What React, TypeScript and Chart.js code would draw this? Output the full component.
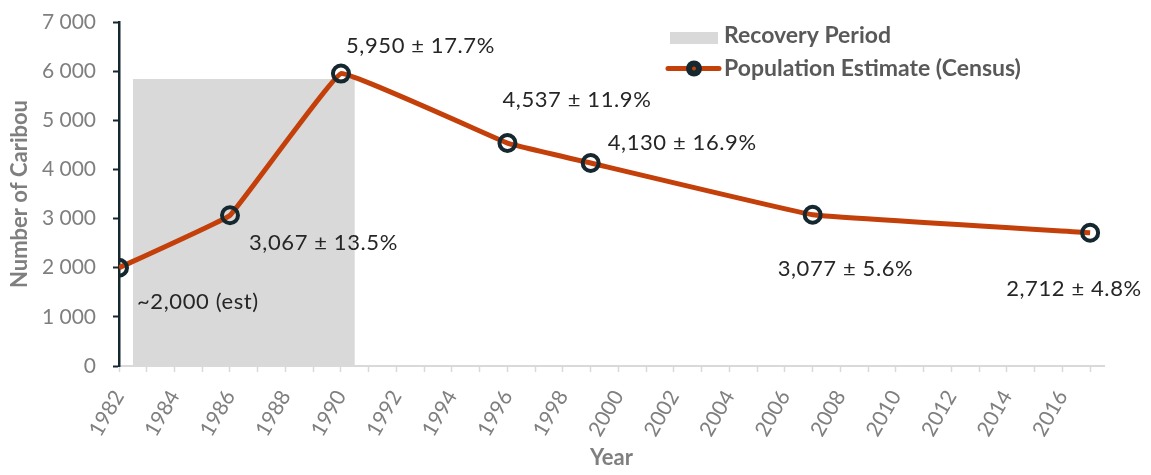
import React, { useEffect, useRef } from "react";
import { Chart, registerables } from "chart.js";

Chart.register(...registerables);

// ---- data ----
const years = [1982, 1986, 1990, 1996, 1999, 2007, 2017];
const population = [2000, 3067, 5950, 4537, 4130, 3077, 2712];
const pointLabels = [
  "~2,000 (est)",
  "3,067 ± 13.5%",
  "5,950 ± 17.7%",
  "4,537 ± 11.9%",
  "4,130 ± 16.9%",
  "3,077 ± 5.6%",
  "2,712 ± 4.8%",
];
const recoveryYears = [1982.5, 1990.5];
const recoveryLevel = [5840, 5840];
const seriesNames = ["Recovery Period", "Population Estimate (Census)"];
const yTickValues = [0, 1000, 2000, 3000, 4000, 5000, 6000, 7000];

// ---- styles ----
const LINE_COLOR = "#c4400a";
const MARKER_COLOR = "#15272f";
const GRAY_FILL = "#d9d9d9";
const TEXT_GRAY = "#7f7f7f";
const LEGEND_GRAY = "#595959";
const LABEL_COLOR = "#262626";
const FONT = "Lato";
// offsets of each point label's left/middle anchor relative to its point (px)
const labelOffsets = [
  [18, 34],
  [19, 28],
  [5, -28],
  [-5, -43],
  [17, -20],
  [-35, 54],
  [-84, 56],
];

const fmtThousands = (v: number) =>
  String(v).replace(/\B(?=(\d{3})+(?!\d))/g, " ");

const labelsPlugin = {
  id: "pointLabels",
  afterDatasetsDraw(chart: any) {
    const { ctx, scales } = chart;
    const xs = scales.x;
    const ys = scales.y;
    ctx.save();
    ctx.font = `22px ${FONT}`;
    (ctx as any).letterSpacing = "0.6px";
    ctx.fillStyle = LABEL_COLOR;
    ctx.textAlign = "left";
    ctx.textBaseline = "middle";
    years.forEach((yr, i) => {
      const px = xs.getPixelForValue(yr);
      const py = ys.getPixelForValue(population[i]);
      const [dx, dy] = labelOffsets[i];
      ctx.fillText(pointLabels[i], px + dx, py + dy);
    });
    (ctx as any).letterSpacing = "0px";

    // legend
    const ly1 = 38;
    const ly2 = 68.5;
    ctx.fillStyle = GRAY_FILL;
    ctx.fillRect(670, 32, 48, 12);
    ctx.strokeStyle = LINE_COLOR;
    ctx.lineWidth = 5;
    ctx.lineCap = "round";
    ctx.beginPath();
    ctx.moveTo(668, ly2);
    ctx.lineTo(719, ly2);
    ctx.stroke();
    ctx.fillStyle = MARKER_COLOR;
    ctx.beginPath();
    ctx.arc(694, ly2, 8, 0, Math.PI * 2);
    ctx.fill();
    ctx.fillStyle = LINE_COLOR;
    ctx.beginPath();
    ctx.arc(694, ly2, 2, 0, Math.PI * 2);
    ctx.fill();
    ctx.fillStyle = LEGEND_GRAY;
    ctx.font = `bold 23px ${FONT}`;
    ctx.fillText(seriesNames[0], 724, ly1 - 2);
    ctx.fillText(seriesNames[1], 724, ly2);
    ctx.restore();
  },
};

export default function App() {
  const ref = useRef<HTMLCanvasElement | null>(null);
  useEffect(() => {
    if (!ref.current) return;
    const chart = new Chart(ref.current, {
      type: "line",
      data: {
        datasets: [
          {
            label: seriesNames[1],
            data: years.map((x, i) => ({ x, y: population[i] })),
            borderColor: LINE_COLOR,
            borderWidth: 5,
            tension: 0.06,
            pointRadius: 8,
            pointHoverRadius: 8,
            pointBorderWidth: 4,
            pointBorderColor: MARKER_COLOR,
            pointBackgroundColor: "rgba(0,0,0,0)",
            order: 1,
          },
          {
            label: seriesNames[0],
            data: recoveryYears.map((x, i) => ({ x, y: recoveryLevel[i] })),
            borderWidth: 0,
            borderColor: "rgba(0,0,0,0)",
            backgroundColor: GRAY_FILL,
            fill: "origin",
            pointRadius: 0,
            tension: 0,
            order: 2,
          },
        ],
      },
      options: {
        responsive: false,
        animation: false,
        layout: { padding: { left: 0, top: 22, right: 47, bottom: 0 } },
        plugins: { legend: { display: false }, tooltip: { enabled: false } },
        scales: {
          x: {
            type: "linear",
            min: 1982,
            max: 2017.5,
            afterFit: (s: any) => {
              s.height = 109;
            },
            afterBuildTicks: (s: any) => {
              const t = [];
              for (let v = 1982; v <= 2017; v++) t.push({ value: v });
              s.ticks = t;
            },
            ticks: {
              autoSkip: false,
              includeBounds: false,
              minRotation: 60,
              maxRotation: 60,
              padding: 14,
              color: TEXT_GRAY,
              font: { family: FONT, size: 21 },
              callback: (v: any) => (Number(v) % 2 === 0 ? String(v) : ""),
            },
            grid: {
              drawOnChartArea: false,
              drawTicks: true,
              tickLength: 6,
              tickColor: GRAY_FILL,
              tickWidth: 1.5,
            },
            border: { display: true, color: GRAY_FILL, width: 2 },
            title: {
              display: true,
              text: "Year",
              color: TEXT_GRAY,
              font: { family: FONT, size: 22, weight: "bold" },
              padding: { top: 0, bottom: 4 },
            },
          },
          y: {
            min: 0,
            max: 7000,
            afterFit: (s: any) => {
              s.width = 119;
              s.paddingTop = 0;
              s.paddingBottom = 0;
            },
            afterBuildTicks: (s: any) => {
              s.ticks = yTickValues.map((v) => ({ value: v }));
            },
            ticks: {
              padding: 17,
              color: TEXT_GRAY,
              font: { family: FONT, size: 21 },
              callback: (v: any) => fmtThousands(Number(v)),
            },
            grid: {
              drawOnChartArea: false,
              drawTicks: true,
              tickLength: 6,
              tickColor: MARKER_COLOR,
              tickWidth: 2,
            },
            border: { display: true, color: MARKER_COLOR, width: 2.5 },
            title: {
              display: true,
              text: "Number of Caribou",
              color: TEXT_GRAY,
              font: { family: FONT, size: 22, weight: "bold" },
              padding: { top: 7, bottom: 0 },
            },
          },
        },
      },
      plugins: [labelsPlugin],
    } as any);
    return () => chart.destroy();
  }, []);
  return (
    <div style={{ position: "absolute", left: 0, top: 0, width: 1151, height: 475 }}>
      <canvas ref={ref} width={1151} height={475} />
    </div>
  );
}
